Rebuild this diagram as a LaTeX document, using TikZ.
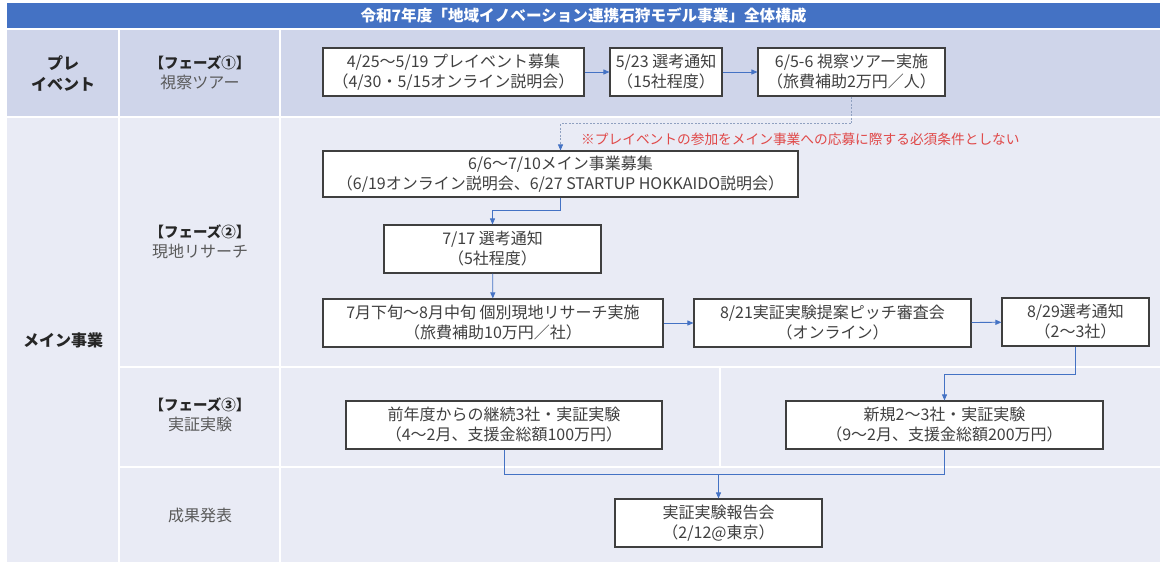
\documentclass[tikz,border=0pt]{standalone}
\usepackage{fontspec}
\setmainfont{Noto Sans CJK JP}
\usetikzlibrary{arrows.meta}
\definecolor{titleblue}{HTML}{4472C4}
\definecolor{prefill}{HTML}{CFD5EA}
\definecolor{mainfill}{HTML}{E9EBF5}
\definecolor{boxtext}{HTML}{404040}
\definecolor{boxline}{HTML}{3F3F3F}
\definecolor{arrowblue}{HTML}{4472C4}
\definecolor{dashgray}{HTML}{8FA0C0}
\definecolor{notered}{HTML}{E04848}
\definecolor{labelgray}{HTML}{595959}
\tikzset{
  box/.style={draw=boxline, line width=1.1pt, fill=white, text=boxtext, align=center,
    inner sep=0pt, font=\fontsize{16}{20}\selectfont},
  arr/.style={draw=arrowblue, line width=0.8pt, -{Triangle[length=6pt,width=5pt]}},
  lnk/.style={draw=arrowblue, line width=0.8pt},
  dashlnk/.style={draw=dashgray, line width=0.7pt, dash pattern=on 2pt off 1.5pt,
    -{Triangle[length=6pt,width=5pt,color=arrowblue]}},
  prefillcell/.style={fill=prefill},
  maincell/.style={fill=mainfill},
  rowlabel/.style={align=center, text=black!85, font=\fontsize{16}{21}\selectfont\bfseries},
  phaselabel/.style={align=center, text=labelgray, font=\fontsize{16}{20}\selectfont},
}
\newcommand{\phb}[1]{{\fontsize{14.5}{20}\selectfont\bfseries\color{black!85}#1}}
\begin{document}
\begin{tikzpicture}[x=1pt,y=-1pt]
\useasboundingbox (0,0) rectangle (1166,562);
% title
\fill[titleblue] (7,3) rectangle (1160,28);
\node[text=white, font=\fontsize{15.6}{18}\selectfont\bfseries] (title) at (583.5,15.5)
  {令和7年度「地域イノベーション連携石狩モデル事業」全体構成};
% pre-event row
\fill[prefillcell] (7,30) rectangle (118,116);
\fill[prefillcell] (120,30) rectangle (279,116);
\fill[prefillcell] (281,30) rectangle (1160,116);
% main rows
\fill[maincell] (7,118) rectangle (118,562);
\fill[maincell] (120,118) rectangle (279,366);
\fill[maincell] (281,118) rectangle (1160,366);
\fill[maincell] (120,368) rectangle (279,466);
\fill[maincell] (281,368) rectangle (719,466);
\fill[maincell] (721,368) rectangle (1160,466);
\fill[maincell] (120,468) rectangle (279,562);
\fill[maincell] (281,468) rectangle (1160,562);
% labels
\node[rowlabel] (lpre) at (63,73) {プレ\\イベント};
\node[phaselabel] (lp1) at (200,73) {\phb{【フェーズ①】}\\視察ツアー};
\node[rowlabel] (lmain) at (63,340) {メイン事業};
\node[phaselabel] (lp2) at (200,242) {\phb{【フェーズ②】}\\現地リサーチ};
\node[phaselabel] (lp3) at (200,415) {\phb{【フェーズ③】}\\実証実験};
\node[phaselabel] (lres) at (200,515) {成果発表};
% boxes
\node[box, minimum width=261pt, minimum height=48pt] (b1) at (453.5,72)
  {4/25～5/19 プレイベント募集\\（4/30・5/15オンライン説明会）};
\node[box, minimum width=112pt, minimum height=48pt] (b2) at (666,72)
  {5/23 選考通知\\（15社程度）};
\node[box, minimum width=187pt, minimum height=48pt] (b3) at (851.5,72)
  {6/5-6 視察ツアー実施\\（旅費補助2万円／人）};
\node[box, minimum width=475pt, minimum height=46pt] (b4) at (560.5,174)
  {6/6～7/10メイン事業募集\\（6/19オンライン説明会、6/27 STARTUP HOKKAIDO説明会）};
\node[box, minimum width=217pt, minimum height=48pt] (b5) at (492.5,249)
  {7/17 選考通知\\（5社程度）};
\node[box, minimum width=340pt, minimum height=48pt] (b6) at (493,323)
  {7月下旬～8月中旬 個別現地リサーチ実施\\（旅費補助10万円／社）};
\node[box, minimum width=277pt, minimum height=48pt] (b7) at (832.5,323)
  {8/21実証実験提案ピッチ審査会\\（オンライン）};
\node[box, minimum width=147pt, minimum height=48pt] (b8) at (1075.5,322)
  {8/29選考通知\\（2～3社）};
\node[box, minimum width=316pt, minimum height=48pt] (b9) at (504,425)
  {前年度からの継続3社・実証実験\\（4～2月、支援金総額100万円）};
\node[box, minimum width=317pt, minimum height=48pt] (b10) at (944.5,425)
  {新規2～3社・実証実験\\（9～2月、支援金総額200万円）};
\node[box, minimum width=207pt, minimum height=48pt] (b11) at (718.5,523)
  {実証実験報告会\\（2/12@東京）};
% note
\node[anchor=west, text=notered, font=\fontsize{13.7}{18}\selectfont, inner sep=0pt] (note) at (581,139)
  {※プレイベントの参加をメイン事業への応募に際する必須条件としない};
% connectors
\draw[arr] (b1) -- (b2);
\draw[arr] (b2) -- (b3);
\draw[dashlnk] (b3.south) -- ++(0,27) -| (b4.north);
\draw[arr] (b4.south) -- ++(0,13) -| (b5.north);
\draw[arr] (b5) -- (b6);
\draw[arr] (b6) -- (b7);
\draw[arr] (b7) -- (b8);
\draw[arr] (b8.south) -- ++(0,28) -| (b10.north);
\draw[lnk] (b9.south) -- ++(0,25) coordinate (j) -| (b10.south);
\draw[arr] (j -| b11.north) -- (b11.north);
\end{tikzpicture}
\end{document}
